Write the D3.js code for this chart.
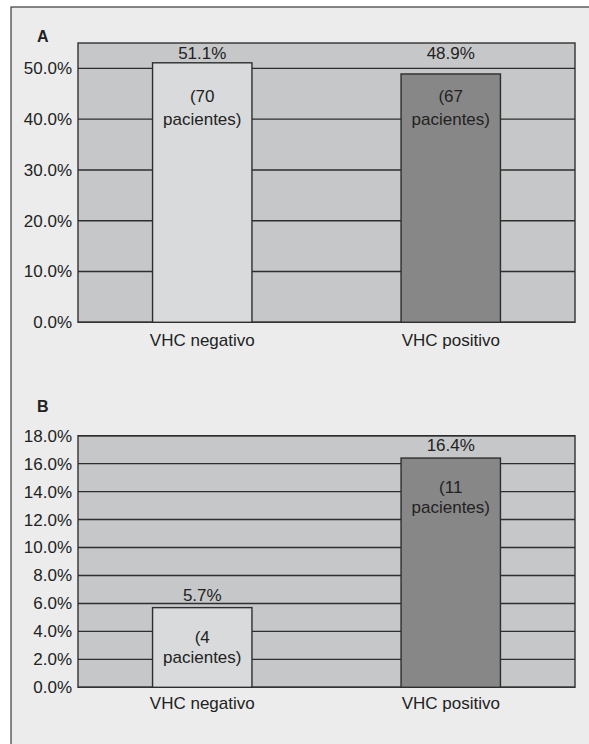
<!DOCTYPE html>
<html>
<head>
<meta charset="utf-8">
<script src="https://cdn.jsdelivr.net/npm/d3@7"></script>
<style>
  html, body { margin: 0; padding: 0; background: #ffffff; }
  svg { display: block; }
  text { font-family: "Liberation Sans", Arial, Helvetica, sans-serif; fill: #222; }
</style>
</head>
<body>
<svg id="chart" width="589" height="744"></svg>
<script>
// Categories shared by both panels
const categories = ["VHC negativo", "VHC positivo"];

// Panel A: overall distribution of patients (%)
const valuesA = [51.1, 48.9];
const patientsA = [70, 67];
const ticksA = [0, 10, 20, 30, 40, 50];

// Panel B: event rate per group (%)
const valuesB = [5.7, 16.4];
const patientsB = [4, 11];
const ticksB = [0, 2, 4, 6, 8, 10, 12, 14, 16, 18];

const barColors = ["#d9dadc", "#878787"];
const FS = 17;

const svg = d3.select("#chart");

// Outer frame
svg.append("rect")
  .attr("x", 11).attr("y", 7)
  .attr("width", 600).attr("height", 760)
  .attr("fill", "#ececec")
  .attr("stroke", "#3a3a3a").attr("stroke-width", 1.2);

function drawPanel(cfg) {
  const { letter, values, patients, ticks, domainMax, top, bottom, letterY, alignLabels, xPad } = cfg;
  const left = 78, right = 575;

  const x = d3.scaleBand().domain(categories).range([left, right]).paddingInner(0.6).paddingOuter(0.3);
  const y = d3.scaleLinear().domain([0, domainMax]).range([bottom, top]);

  const g = svg.append("g");

  // Plot background
  g.append("rect")
    .attr("x", left).attr("y", top)
    .attr("width", right - left).attr("height", bottom - top)
    .attr("fill", "#c6c7c9")
    .attr("stroke", "#333").attr("stroke-width", 1.4);

  // Horizontal gridlines
  g.selectAll("line.grid").data(ticks.filter(t => t > 0)).join("line")
    .attr("x1", left).attr("x2", right)
    .attr("y1", d => y(d)).attr("y2", d => y(d))
    .attr("stroke", "#2e2e2e").attr("stroke-width", 1.4);

  // Y axis labels
  const yAxis = d3.axisLeft(y).tickValues(ticks).tickSize(0).tickPadding(6)
    .tickFormat(d => d3.format(".1f")(d) + "%");
  const ya = g.append("g").attr("transform", `translate(${left},0)`).call(yAxis);
  ya.select(".domain").remove();
  ya.selectAll("text").attr("font-size", FS).attr("fill", "#222")
    .attr("font-family", '"Liberation Sans", Arial, sans-serif');

  // X axis line and labels
  g.append("line").attr("x1", left).attr("x2", right)
    .attr("y1", bottom).attr("y2", bottom)
    .attr("stroke", "#333").attr("stroke-width", 1.4);
  const xAxis = d3.axisBottom(x).tickSize(0).tickPadding(xPad);
  const xa = g.append("g").attr("transform", `translate(0,${bottom})`).call(xAxis);
  xa.select(".domain").remove();
  xa.selectAll("text").attr("font-size", FS).attr("fill", "#222")
    .attr("font-family", '"Liberation Sans", Arial, sans-serif');

  // Bars
  g.selectAll("rect.bar").data(values).join("rect")
    .attr("class", "bar")
    .attr("x", (d, i) => x(categories[i]))
    .attr("width", x.bandwidth())
    .attr("y", d => y(d))
    .attr("height", d => bottom - y(d))
    .attr("fill", (d, i) => barColors[i])
    .attr("stroke", "#2e2e2e").attr("stroke-width", 1.4);

  const maxV = d3.max(values);

  // Value labels above bars
  g.selectAll("text.val").data(values).join("text")
    .attr("class", "val")
    .attr("x", (d, i) => x(categories[i]) + x.bandwidth() / 2)
    .attr("y", d => alignLabels ? y(maxV) - 4 : y(d) - 7)
    .attr("text-anchor", "middle").attr("font-size", FS)
    .text(d => d3.format(".1f")(d) + "%");

  // Patient counts inside bars
  values.forEach((d, i) => {
    const cx = x(categories[i]) + x.bandwidth() / 2;
    const base = alignLabels ? y(maxV) : y(d) - 4;
    const t = g.append("text")
      .attr("x", cx).attr("text-anchor", "middle").attr("font-size", FS);
    t.append("tspan").attr("x", cx).attr("y", base + 39).text(`(${patients[i]}`);
    t.append("tspan").attr("x", cx).attr("y", base + (alignLabels ? 62 : 59)).text("pacientes)");
  });

  // Panel letter
  svg.append("text")
    .attr("x", 37).attr("y", letterY)
    .attr("font-size", 16).attr("font-weight", "bold")
    .text(letter);
}

drawPanel({ letter: "A", values: valuesA, patients: patientsA, ticks: ticksA,
  domainMax: 55, top: 43, bottom: 322.3, letterY: 42, alignLabels: true, xPad: 12 });
drawPanel({ letter: "B", values: valuesB, patients: patientsB, ticks: ticksB,
  domainMax: 18, top: 435.7, bottom: 687.3, letterY: 411.5, alignLabels: false, xPad: 10 });
</script>
</body>
</html>
